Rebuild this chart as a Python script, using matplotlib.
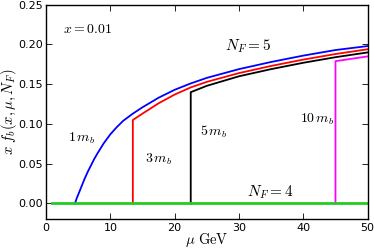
import matplotlib
matplotlib.use('Agg')
import matplotlib.pyplot as plt
import numpy as np

plt.rcParams['mathtext.fontset'] = 'cm'

# bottom quark PDF x*f_b(x, mu, N_F) at x = 0.01, thresholds at k*m_b
mu_1mb = [4.5, 4.75, 5.0, 5.5, 6.0, 6.5, 7.0, 7.5, 8.0, 9.0, 10.0, 11.0,
          12.0, 13.5, 15.0, 17.5, 20.0, 22.5, 25.0, 30.0, 35.0, 40.0, 45.0,
          50.0]
f_1mb = [0.0, 0.006, 0.011, 0.021, 0.031, 0.040, 0.048, 0.056, 0.063, 0.076,
         0.087, 0.096, 0.104, 0.113, 0.121, 0.133, 0.143, 0.151, 0.158,
         0.169, 0.178, 0.186, 0.193, 0.198]

mu_3mb = [13.5, 13.5, 15.0, 17.5, 20.0, 22.5, 25.0, 30.0, 35.0, 40.0, 45.0, 50.0]
f_3mb = [0.0, 0.105, 0.113, 0.126, 0.137, 0.146, 0.153, 0.164, 0.173, 0.181,
         0.188, 0.194]

mu_5mb = [22.5, 22.5, 25.0, 30.0, 35.0, 40.0, 45.0, 50.0]
f_5mb = [0.0, 0.140, 0.148, 0.160, 0.169, 0.177, 0.184, 0.190]

mu_10mb = [45.0, 45.0, 47.5, 50.0]
f_10mb = [0.0, 0.179, 0.182, 0.185]

mu_nf4 = [1.0, 50.0]
f_nf4 = [0.0, 0.0]


def main():
    fig = plt.figure(figsize=(3.74, 2.49), dpi=100)
    ax = fig.add_axes([0.123, 0.119, 0.860, 0.862])

    ax.plot(mu_1mb, f_1mb, color='blue', lw=1.3)
    ax.plot(mu_3mb, f_3mb, color='red', lw=1.3)
    ax.plot(mu_5mb, f_5mb, color='black', lw=1.3)
    ax.plot(mu_10mb, f_10mb, color='magenta', lw=1.3)
    ax.plot(mu_nf4, f_nf4, color='#22cc22', lw=2.0)

    ax.set_xlim(0, 50)
    ax.set_ylim(-0.02, 0.25)
    ax.set_xticks(np.arange(0, 51, 10))
    ax.set_yticks(np.arange(0, 0.251, 0.05))
    ax.set_yticklabels(['%.2f' % v for v in np.arange(0, 0.251, 0.05)])
    ax.tick_params(direction='in', top=True, right=True, labelsize=8,
                   length=4, width=0.6, pad=2.5)
    for s in ax.spines.values():
        s.set_linewidth(1.0)

    ax.set_xlabel(r'$\mu\ \mathrm{GeV}$', fontsize=10.5, va='center')
    ax.xaxis.set_label_coords(0.5, -0.097)
    ax.set_ylabel(r'$x\ f_b(x,\mu,N_F)$', fontsize=10.5, va='center')
    ax.yaxis.set_label_coords(-0.115, 0.5)

    ax.text(2.6, 0.220, r'$x = 0.01$', fontsize=10, va='center')
    ax.text(27.8, 0.198, r'$N_F = 5$', fontsize=11, va='center')
    ax.text(3.4, 0.082, r'$1\,m_b$', fontsize=10, va='center')
    ax.text(15.4, 0.056, r'$3\,m_b$', fontsize=10, va='center')
    ax.text(23.9, 0.090, r'$5\,m_b$', fontsize=10, va='center')
    ax.text(39.5, 0.106, r'$10\,m_b$', fontsize=10, va='center')
    ax.text(31.2, 0.0145, r'$N_F = 4$', fontsize=11, va='center')

    fig.savefig('out.png', dpi=100)


if __name__ == '__main__':
    main()
